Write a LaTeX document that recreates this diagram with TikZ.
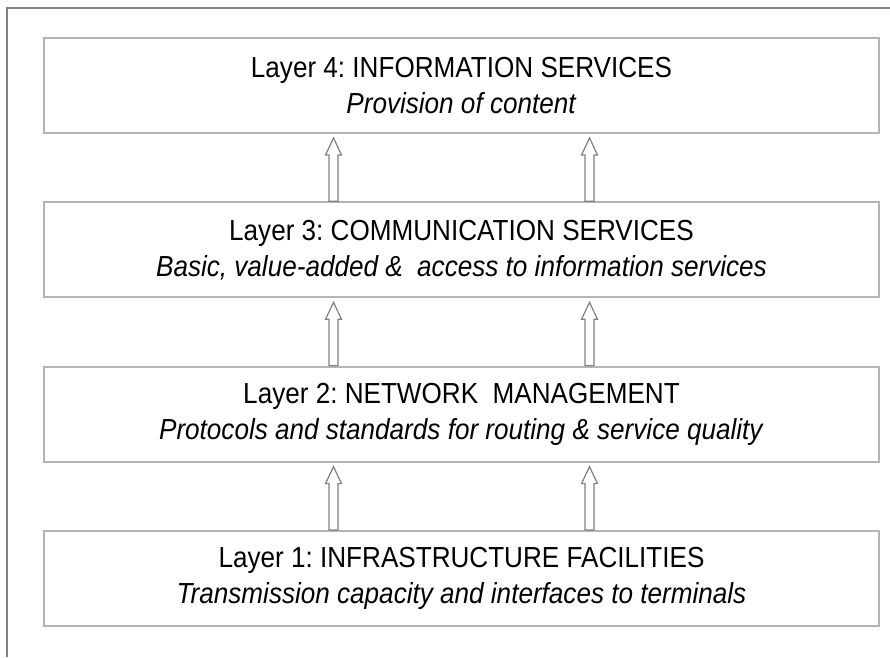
\documentclass[tikz,border=0pt]{standalone}
\usepackage{fontspec}
\setmainfont{Liberation Sans}[FakeStretch=0.9]
\usepackage{xcolor}
\usepackage{tikz}
\usetikzlibrary{positioning}
\usetikzlibrary{calc}
\definecolor{boxgray}{RGB}{180,180,180}
\definecolor{linegray}{RGB}{128,128,128}
\tikzset{
	layer node/.style={rectangle,draw=boxgray,line width=2pt,inner sep=0pt,
		minimum width=835pt,minimum height=95pt,align=center,
		font=\fontsize{29}{36}\selectfont\frenchspacing},
	up arrow/.style={draw=linegray,fill=white,line width=1.2pt,
		to path={let \p1=(\tikztostart), \p2=(\tikztotarget) in
		(\x1-4.5pt,\y1) -- (\x1-4.5pt,\y2-17pt) -- (\x1-8pt,\y2-17pt) -- (\x1,\y2)
		-- (\x1+8pt,\y2-17pt) -- (\x1+4.5pt,\y2-17pt) -- (\x1+4.5pt,\y1) -- cycle}
	}
}

\begin{document}
\begin{tikzpicture}[node distance=67.3pt]
      \useasboundingbox (0,0) rectangle (890pt,-657pt);
      \draw[linegray,line width=2pt] (7pt,-657pt) -- (7pt,-8pt) -- (890pt,-8pt);

      \node[layer node] (4) at (461.5pt,-85.5pt) {Layer 4: INFORMATION SERVICES\\\textit{Provision of content}};
      \node[layer node] (3) [below=of 4] {Layer 3: COMMUNICATION SERVICES\\\textit{Basic, value-added \&~ access to information services}};
      \node[layer node] (2) [below=of 3] {Layer 2: NETWORK~ MANAGEMENT\\\textit{Protocols and standards for routing \& service quality}};
      \node[layer node] (1) [below=of 2] {Layer 1: INFRASTRUCTURE FACILITIES\\\textit{Transmission capacity and interfaces to terminals}};

      \foreach \a/\b in {1/2,2/3,3/4}
        \foreach \dx in {-128pt,128pt}
          \draw[up arrow] ([xshift=\dx]\a.north) to ([xshift=\dx,yshift=-4pt]\b.south);
\end{tikzpicture}
\end{document}
